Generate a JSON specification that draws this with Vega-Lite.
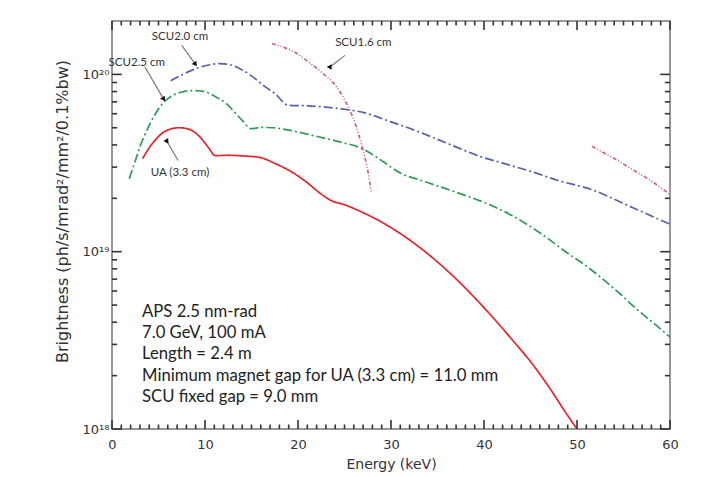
{
  "$schema": "https://vega.github.io/schema/vega-lite/v6.json",
  "width": 558,
  "height": 408,
  "autosize": "none",
  "padding": {"left": 112, "top": 21, "right": 36, "bottom": 48},
  "background": "white",
  "config": {"view": {"stroke": "#777", "strokeWidth": 1.5}, "font": "DejaVu Sans"},
  "datasets": {
    "curves": [
      {"s": "UA", "seg": 1, "e": 3.3, "b": 3.35e19},
      {"s": "UA", "seg": 1, "e": 4.0, "b": 3.85e19},
      {"s": "UA", "seg": 1, "e": 4.8, "b": 4.35e19},
      {"s": "UA", "seg": 1, "e": 5.5, "b": 4.7e19},
      {"s": "UA", "seg": 1, "e": 6.3, "b": 4.92e19},
      {"s": "UA", "seg": 1, "e": 7.2, "b": 5.0e19},
      {"s": "UA", "seg": 1, "e": 8.0, "b": 4.95e19},
      {"s": "UA", "seg": 1, "e": 8.8, "b": 4.75e19},
      {"s": "UA", "seg": 1, "e": 9.6, "b": 4.35e19},
      {"s": "UA", "seg": 1, "e": 10.4, "b": 3.85e19},
      {"s": "UA", "seg": 1, "e": 11.1, "b": 3.48e19},
      {"s": "UA", "seg": 1, "e": 12.5, "b": 3.5e19},
      {"s": "UA", "seg": 1, "e": 14.0, "b": 3.47e19},
      {"s": "UA", "seg": 1, "e": 15.9, "b": 3.4e19},
      {"s": "UA", "seg": 1, "e": 17.5, "b": 3.15e19},
      {"s": "UA", "seg": 1, "e": 19.5, "b": 2.78e19},
      {"s": "UA", "seg": 1, "e": 21.0, "b": 2.45e19},
      {"s": "UA", "seg": 1, "e": 22.3, "b": 2.15e19},
      {"s": "UA", "seg": 1, "e": 23.5, "b": 1.95e19},
      {"s": "UA", "seg": 1, "e": 25.0, "b": 1.84e19},
      {"s": "UA", "seg": 1, "e": 27.0, "b": 1.66e19},
      {"s": "UA", "seg": 1, "e": 29.0, "b": 1.467e19},
      {"s": "UA", "seg": 1, "e": 31.0, "b": 1.265e19},
      {"s": "UA", "seg": 1, "e": 33.0, "b": 1.065e19},
      {"s": "UA", "seg": 1, "e": 35.0, "b": 8.75e18},
      {"s": "UA", "seg": 1, "e": 37.0, "b": 7.02e18},
      {"s": "UA", "seg": 1, "e": 39.0, "b": 5.5e18},
      {"s": "UA", "seg": 1, "e": 41.0, "b": 4.23e18},
      {"s": "UA", "seg": 1, "e": 43.0, "b": 3.2e18},
      {"s": "UA", "seg": 1, "e": 45.0, "b": 2.4e18},
      {"s": "UA", "seg": 1, "e": 47.0, "b": 1.72e18},
      {"s": "UA", "seg": 1, "e": 49.0, "b": 1.19e18},
      {"s": "UA", "seg": 1, "e": 50.0, "b": 1.0e18},
      {"s": "SCU2.5", "seg": 1, "e": 1.86, "b": 2.58e19},
      {"s": "SCU2.5", "seg": 1, "e": 2.5, "b": 3.25e19},
      {"s": "SCU2.5", "seg": 1, "e": 3.0, "b": 3.9e19},
      {"s": "SCU2.5", "seg": 1, "e": 3.8, "b": 4.9e19},
      {"s": "SCU2.5", "seg": 1, "e": 4.6, "b": 5.9e19},
      {"s": "SCU2.5", "seg": 1, "e": 5.5, "b": 6.9e19},
      {"s": "SCU2.5", "seg": 1, "e": 6.5, "b": 7.6e19},
      {"s": "SCU2.5", "seg": 1, "e": 7.5, "b": 7.95e19},
      {"s": "SCU2.5", "seg": 1, "e": 8.5, "b": 8.1e19},
      {"s": "SCU2.5", "seg": 1, "e": 9.5, "b": 8.06e19},
      {"s": "SCU2.5", "seg": 1, "e": 10.5, "b": 7.8e19},
      {"s": "SCU2.5", "seg": 1, "e": 11.5, "b": 7.3e19},
      {"s": "SCU2.5", "seg": 1, "e": 12.3, "b": 6.84e19},
      {"s": "SCU2.5", "seg": 1, "e": 13.2, "b": 6.1e19},
      {"s": "SCU2.5", "seg": 1, "e": 14.0, "b": 5.5e19},
      {"s": "SCU2.5", "seg": 1, "e": 14.95, "b": 4.94e19},
      {"s": "SCU2.5", "seg": 1, "e": 16.0, "b": 5.02e19},
      {"s": "SCU2.5", "seg": 1, "e": 17.3, "b": 5.0e19},
      {"s": "SCU2.5", "seg": 1, "e": 19.0, "b": 4.85e19},
      {"s": "SCU2.5", "seg": 1, "e": 21.0, "b": 4.6e19},
      {"s": "SCU2.5", "seg": 1, "e": 23.0, "b": 4.35e19},
      {"s": "SCU2.5", "seg": 1, "e": 24.5, "b": 4.16e19},
      {"s": "SCU2.5", "seg": 1, "e": 26.7, "b": 3.85e19},
      {"s": "SCU2.5", "seg": 1, "e": 28.5, "b": 3.4e19},
      {"s": "SCU2.5", "seg": 1, "e": 30.0, "b": 3.0e19},
      {"s": "SCU2.5", "seg": 1, "e": 31.1, "b": 2.76e19},
      {"s": "SCU2.5", "seg": 1, "e": 33.0, "b": 2.55e19},
      {"s": "SCU2.5", "seg": 1, "e": 35.0, "b": 2.35e19},
      {"s": "SCU2.5", "seg": 1, "e": 37.5, "b": 2.12e19},
      {"s": "SCU2.5", "seg": 1, "e": 40.3, "b": 1.87e19},
      {"s": "SCU2.5", "seg": 1, "e": 43.0, "b": 1.6e19},
      {"s": "SCU2.5", "seg": 1, "e": 46.0, "b": 1.28e19},
      {"s": "SCU2.5", "seg": 1, "e": 49.0, "b": 9.8e18},
      {"s": "SCU2.5", "seg": 1, "e": 51.0, "b": 8.3e18},
      {"s": "SCU2.5", "seg": 1, "e": 52.5, "b": 7.2e18},
      {"s": "SCU2.5", "seg": 1, "e": 54.6, "b": 5.8e18},
      {"s": "SCU2.5", "seg": 1, "e": 56.5, "b": 4.7e18},
      {"s": "SCU2.5", "seg": 1, "e": 58.5, "b": 3.85e18},
      {"s": "SCU2.5", "seg": 1, "e": 60.0, "b": 3.3e18},
      {"s": "SCU2.0", "seg": 1, "e": 6.3, "b": 9.2e19},
      {"s": "SCU2.0", "seg": 1, "e": 7.3, "b": 9.8e19},
      {"s": "SCU2.0", "seg": 1, "e": 8.3, "b": 1.04e20},
      {"s": "SCU2.0", "seg": 1, "e": 9.3, "b": 1.09e20},
      {"s": "SCU2.0", "seg": 1, "e": 10.4, "b": 1.13e20},
      {"s": "SCU2.0", "seg": 1, "e": 11.6, "b": 1.15e20},
      {"s": "SCU2.0", "seg": 1, "e": 12.8, "b": 1.13e20},
      {"s": "SCU2.0", "seg": 1, "e": 14.0, "b": 1.06e20},
      {"s": "SCU2.0", "seg": 1, "e": 15.0, "b": 9.8e19},
      {"s": "SCU2.0", "seg": 1, "e": 15.6, "b": 9.25e19},
      {"s": "SCU2.0", "seg": 1, "e": 16.5, "b": 8.5e19},
      {"s": "SCU2.0", "seg": 1, "e": 17.5, "b": 7.8e19},
      {"s": "SCU2.0", "seg": 1, "e": 18.96, "b": 6.7e19},
      {"s": "SCU2.0", "seg": 1, "e": 21.0, "b": 6.65e19},
      {"s": "SCU2.0", "seg": 1, "e": 24.5, "b": 6.4e19},
      {"s": "SCU2.0", "seg": 1, "e": 27.0, "b": 6.1e19},
      {"s": "SCU2.0", "seg": 1, "e": 30.0, "b": 5.4e19},
      {"s": "SCU2.0", "seg": 1, "e": 32.5, "b": 4.85e19},
      {"s": "SCU2.0", "seg": 1, "e": 35.0, "b": 4.3e19},
      {"s": "SCU2.0", "seg": 1, "e": 37.5, "b": 3.8e19},
      {"s": "SCU2.0", "seg": 1, "e": 39.5, "b": 3.45e19},
      {"s": "SCU2.0", "seg": 1, "e": 42.0, "b": 3.16e19},
      {"s": "SCU2.0", "seg": 1, "e": 45.0, "b": 2.84e19},
      {"s": "SCU2.0", "seg": 1, "e": 48.0, "b": 2.52e19},
      {"s": "SCU2.0", "seg": 1, "e": 51.8, "b": 2.22e19},
      {"s": "SCU2.0", "seg": 1, "e": 55.0, "b": 1.87e19},
      {"s": "SCU2.0", "seg": 1, "e": 58.0, "b": 1.59e19},
      {"s": "SCU2.0", "seg": 1, "e": 60.0, "b": 1.43e19},
      {"s": "SCU1.6", "seg": 1, "e": 17.2, "b": 1.49e20},
      {"s": "SCU1.6", "seg": 1, "e": 18.5, "b": 1.42e20},
      {"s": "SCU1.6", "seg": 1, "e": 19.8, "b": 1.32e20},
      {"s": "SCU1.6", "seg": 1, "e": 20.9, "b": 1.2e20},
      {"s": "SCU1.6", "seg": 1, "e": 22.0, "b": 1.084e20},
      {"s": "SCU1.6", "seg": 1, "e": 23.0, "b": 9.8e19},
      {"s": "SCU1.6", "seg": 1, "e": 23.8, "b": 8.95e19},
      {"s": "SCU1.6", "seg": 1, "e": 24.6, "b": 7.85e19},
      {"s": "SCU1.6", "seg": 1, "e": 25.4, "b": 6.55e19},
      {"s": "SCU1.6", "seg": 1, "e": 26.2, "b": 5.19e19},
      {"s": "SCU1.6", "seg": 1, "e": 27.0, "b": 3.72e19},
      {"s": "SCU1.6", "seg": 1, "e": 27.5, "b": 2.88e19},
      {"s": "SCU1.6", "seg": 1, "e": 27.9, "b": 2.14e19},
      {"s": "SCU1.6", "seg": 2, "e": 51.6, "b": 3.93e19},
      {"s": "SCU1.6", "seg": 2, "e": 54.0, "b": 3.35e19},
      {"s": "SCU1.6", "seg": 2, "e": 56.1, "b": 2.88e19},
      {"s": "SCU1.6", "seg": 2, "e": 58.0, "b": 2.5e19},
      {"s": "SCU1.6", "seg": 2, "e": 60.0, "b": 2.1e19}
    ],
    "notes": [
      {"t": "SCU2.0 cm", "x": 7.31, "y": 1.62e20},
      {"t": "SCU2.5 cm", "x": 2.66, "y": 1.16e20},
      {"t": "UA (3.3 cm)", "x": 7.31, "y": 2.79e19},
      {"t": "SCU1.6 cm", "x": 27.02, "y": 1.5e20}
    ],
    "arrows": [
      {"k": "SCU2.0", "x": 7.49, "y": 1.46e20, "x2": 8.92, "y2": 1.15e20},
      {"k": "SCU2.5", "x": 3.55, "y": 1.1e20, "x2": 5.52, "y2": 7.3e19},
      {"k": "UA", "x": 7.1, "y": 3.27e19, "x2": 5.88, "y2": 4.21e19},
      {"k": "SCU1.6", "x": 25.05, "y": 1.28e20, "x2": 23.44, "y2": 1.1e20}
    ],
    "info": [
      {"t": "APS 2.5 nm-rad", "x": 3.23, "y": 4.56e18},
      {"t": "7.0 GeV, 100 mA", "x": 3.23, "y": 3.48e18},
      {"t": "Length = 2.4 m", "x": 3.23, "y": 2.65e18},
      {"t": "Minimum magnet gap for UA (3.3 cm) = 11.0 mm", "x": 3.23, "y": 1.99e18},
      {"t": "SCU fixed gap = 9.0 mm", "x": 3.23, "y": 1.51e18}
    ],
    "ticks": [
      {"a": 0, "a2": 0, "b": 1e18, "b2": 1.124e18}, {"a": 1, "a2": 1, "b": 1e18, "b2": 1.06e18}, {"a": 2, "a2": 2, "b": 1e18, "b2": 1.06e18}, {"a": 3, "a2": 3, "b": 1e18, "b2": 1.06e18}, {"a": 4, "a2": 4, "b": 1e18, "b2": 1.06e18}, {"a": 5, "a2": 5, "b": 1e18, "b2": 1.06e18}, {"a": 6, "a2": 6, "b": 1e18, "b2": 1.06e18}, {"a": 7, "a2": 7, "b": 1e18, "b2": 1.06e18}, {"a": 8, "a2": 8, "b": 1e18, "b2": 1.06e18}, {"a": 9, "a2": 9, "b": 1e18, "b2": 1.06e18},
      {"a": 10, "a2": 10, "b": 1e18, "b2": 1.124e18}, {"a": 11, "a2": 11, "b": 1e18, "b2": 1.06e18}, {"a": 12, "a2": 12, "b": 1e18, "b2": 1.06e18}, {"a": 13, "a2": 13, "b": 1e18, "b2": 1.06e18}, {"a": 14, "a2": 14, "b": 1e18, "b2": 1.06e18}, {"a": 15, "a2": 15, "b": 1e18, "b2": 1.06e18}, {"a": 16, "a2": 16, "b": 1e18, "b2": 1.06e18}, {"a": 17, "a2": 17, "b": 1e18, "b2": 1.06e18}, {"a": 18, "a2": 18, "b": 1e18, "b2": 1.06e18}, {"a": 19, "a2": 19, "b": 1e18, "b2": 1.06e18},
      {"a": 20, "a2": 20, "b": 1e18, "b2": 1.124e18}, {"a": 21, "a2": 21, "b": 1e18, "b2": 1.06e18}, {"a": 22, "a2": 22, "b": 1e18, "b2": 1.06e18}, {"a": 23, "a2": 23, "b": 1e18, "b2": 1.06e18}, {"a": 24, "a2": 24, "b": 1e18, "b2": 1.06e18}, {"a": 25, "a2": 25, "b": 1e18, "b2": 1.06e18}, {"a": 26, "a2": 26, "b": 1e18, "b2": 1.06e18}, {"a": 27, "a2": 27, "b": 1e18, "b2": 1.06e18}, {"a": 28, "a2": 28, "b": 1e18, "b2": 1.06e18}, {"a": 29, "a2": 29, "b": 1e18, "b2": 1.06e18},
      {"a": 30, "a2": 30, "b": 1e18, "b2": 1.124e18}, {"a": 31, "a2": 31, "b": 1e18, "b2": 1.06e18}, {"a": 32, "a2": 32, "b": 1e18, "b2": 1.06e18}, {"a": 33, "a2": 33, "b": 1e18, "b2": 1.06e18}, {"a": 34, "a2": 34, "b": 1e18, "b2": 1.06e18}, {"a": 35, "a2": 35, "b": 1e18, "b2": 1.06e18}, {"a": 36, "a2": 36, "b": 1e18, "b2": 1.06e18}, {"a": 37, "a2": 37, "b": 1e18, "b2": 1.06e18}, {"a": 38, "a2": 38, "b": 1e18, "b2": 1.06e18}, {"a": 39, "a2": 39, "b": 1e18, "b2": 1.06e18},
      {"a": 40, "a2": 40, "b": 1e18, "b2": 1.124e18}, {"a": 41, "a2": 41, "b": 1e18, "b2": 1.06e18}, {"a": 42, "a2": 42, "b": 1e18, "b2": 1.06e18}, {"a": 43, "a2": 43, "b": 1e18, "b2": 1.06e18}, {"a": 44, "a2": 44, "b": 1e18, "b2": 1.06e18}, {"a": 45, "a2": 45, "b": 1e18, "b2": 1.06e18}, {"a": 46, "a2": 46, "b": 1e18, "b2": 1.06e18}, {"a": 47, "a2": 47, "b": 1e18, "b2": 1.06e18}, {"a": 48, "a2": 48, "b": 1e18, "b2": 1.06e18}, {"a": 49, "a2": 49, "b": 1e18, "b2": 1.06e18},
      {"a": 50, "a2": 50, "b": 1e18, "b2": 1.124e18}, {"a": 51, "a2": 51, "b": 1e18, "b2": 1.06e18}, {"a": 52, "a2": 52, "b": 1e18, "b2": 1.06e18}, {"a": 53, "a2": 53, "b": 1e18, "b2": 1.06e18}, {"a": 54, "a2": 54, "b": 1e18, "b2": 1.06e18}, {"a": 55, "a2": 55, "b": 1e18, "b2": 1.06e18}, {"a": 56, "a2": 56, "b": 1e18, "b2": 1.06e18}, {"a": 57, "a2": 57, "b": 1e18, "b2": 1.06e18}, {"a": 58, "a2": 58, "b": 1e18, "b2": 1.06e18}, {"a": 59, "a2": 59, "b": 1e18, "b2": 1.06e18},
      {"a": 60, "a2": 60, "b": 1e18, "b2": 1.124e18},
      {"a": 0, "a2": 0, "b": 2e20, "b2": 1.78e20}, {"a": 1, "a2": 1, "b": 2e20, "b2": 1.887e20}, {"a": 2, "a2": 2, "b": 2e20, "b2": 1.887e20}, {"a": 3, "a2": 3, "b": 2e20, "b2": 1.887e20}, {"a": 4, "a2": 4, "b": 2e20, "b2": 1.887e20}, {"a": 5, "a2": 5, "b": 2e20, "b2": 1.887e20}, {"a": 6, "a2": 6, "b": 2e20, "b2": 1.887e20}, {"a": 7, "a2": 7, "b": 2e20, "b2": 1.887e20}, {"a": 8, "a2": 8, "b": 2e20, "b2": 1.887e20}, {"a": 9, "a2": 9, "b": 2e20, "b2": 1.887e20},
      {"a": 10, "a2": 10, "b": 2e20, "b2": 1.78e20}, {"a": 11, "a2": 11, "b": 2e20, "b2": 1.887e20}, {"a": 12, "a2": 12, "b": 2e20, "b2": 1.887e20}, {"a": 13, "a2": 13, "b": 2e20, "b2": 1.887e20}, {"a": 14, "a2": 14, "b": 2e20, "b2": 1.887e20}, {"a": 15, "a2": 15, "b": 2e20, "b2": 1.887e20}, {"a": 16, "a2": 16, "b": 2e20, "b2": 1.887e20}, {"a": 17, "a2": 17, "b": 2e20, "b2": 1.887e20}, {"a": 18, "a2": 18, "b": 2e20, "b2": 1.887e20}, {"a": 19, "a2": 19, "b": 2e20, "b2": 1.887e20},
      {"a": 20, "a2": 20, "b": 2e20, "b2": 1.78e20}, {"a": 21, "a2": 21, "b": 2e20, "b2": 1.887e20}, {"a": 22, "a2": 22, "b": 2e20, "b2": 1.887e20}, {"a": 23, "a2": 23, "b": 2e20, "b2": 1.887e20}, {"a": 24, "a2": 24, "b": 2e20, "b2": 1.887e20}, {"a": 25, "a2": 25, "b": 2e20, "b2": 1.887e20}, {"a": 26, "a2": 26, "b": 2e20, "b2": 1.887e20}, {"a": 27, "a2": 27, "b": 2e20, "b2": 1.887e20}, {"a": 28, "a2": 28, "b": 2e20, "b2": 1.887e20}, {"a": 29, "a2": 29, "b": 2e20, "b2": 1.887e20},
      {"a": 30, "a2": 30, "b": 2e20, "b2": 1.78e20}, {"a": 31, "a2": 31, "b": 2e20, "b2": 1.887e20}, {"a": 32, "a2": 32, "b": 2e20, "b2": 1.887e20}, {"a": 33, "a2": 33, "b": 2e20, "b2": 1.887e20}, {"a": 34, "a2": 34, "b": 2e20, "b2": 1.887e20}, {"a": 35, "a2": 35, "b": 2e20, "b2": 1.887e20}, {"a": 36, "a2": 36, "b": 2e20, "b2": 1.887e20}, {"a": 37, "a2": 37, "b": 2e20, "b2": 1.887e20}, {"a": 38, "a2": 38, "b": 2e20, "b2": 1.887e20}, {"a": 39, "a2": 39, "b": 2e20, "b2": 1.887e20},
      {"a": 40, "a2": 40, "b": 2e20, "b2": 1.78e20}, {"a": 41, "a2": 41, "b": 2e20, "b2": 1.887e20}, {"a": 42, "a2": 42, "b": 2e20, "b2": 1.887e20}, {"a": 43, "a2": 43, "b": 2e20, "b2": 1.887e20}, {"a": 44, "a2": 44, "b": 2e20, "b2": 1.887e20}, {"a": 45, "a2": 45, "b": 2e20, "b2": 1.887e20}, {"a": 46, "a2": 46, "b": 2e20, "b2": 1.887e20}, {"a": 47, "a2": 47, "b": 2e20, "b2": 1.887e20}, {"a": 48, "a2": 48, "b": 2e20, "b2": 1.887e20}, {"a": 49, "a2": 49, "b": 2e20, "b2": 1.887e20},
      {"a": 50, "a2": 50, "b": 2e20, "b2": 1.78e20}, {"a": 51, "a2": 51, "b": 2e20, "b2": 1.887e20}, {"a": 52, "a2": 52, "b": 2e20, "b2": 1.887e20}, {"a": 53, "a2": 53, "b": 2e20, "b2": 1.887e20}, {"a": 54, "a2": 54, "b": 2e20, "b2": 1.887e20}, {"a": 55, "a2": 55, "b": 2e20, "b2": 1.887e20}, {"a": 56, "a2": 56, "b": 2e20, "b2": 1.887e20}, {"a": 57, "a2": 57, "b": 2e20, "b2": 1.887e20}, {"a": 58, "a2": 58, "b": 2e20, "b2": 1.887e20}, {"a": 59, "a2": 59, "b": 2e20, "b2": 1.887e20},
      {"a": 60, "a2": 60, "b": 2e20, "b2": 1.78e20},
      {"a": 0, "a2": 1.05, "b": 1e18, "b2": 1e18}, {"a": 0, "a2": 0.55, "b": 2e18, "b2": 2e18}, {"a": 0, "a2": 0.55, "b": 3e18, "b2": 3e18}, {"a": 0, "a2": 0.55, "b": 4e18, "b2": 4e18}, {"a": 0, "a2": 0.55, "b": 5e18, "b2": 5e18}, {"a": 0, "a2": 0.55, "b": 6e18, "b2": 6e18}, {"a": 0, "a2": 0.55, "b": 7e18, "b2": 7e18}, {"a": 0, "a2": 0.55, "b": 8e18, "b2": 8e18}, {"a": 0, "a2": 0.55, "b": 9e18, "b2": 9e18},
      {"a": 0, "a2": 1.05, "b": 1e19, "b2": 1e19}, {"a": 0, "a2": 0.55, "b": 2e19, "b2": 2e19}, {"a": 0, "a2": 0.55, "b": 3e19, "b2": 3e19}, {"a": 0, "a2": 0.55, "b": 4e19, "b2": 4e19}, {"a": 0, "a2": 0.55, "b": 5e19, "b2": 5e19}, {"a": 0, "a2": 0.55, "b": 6e19, "b2": 6e19}, {"a": 0, "a2": 0.55, "b": 7e19, "b2": 7e19}, {"a": 0, "a2": 0.55, "b": 8e19, "b2": 8e19}, {"a": 0, "a2": 0.55, "b": 9e19, "b2": 9e19},
      {"a": 0, "a2": 1.05, "b": 1e20, "b2": 1e20},
      {"a": 60, "a2": 58.95, "b": 1e18, "b2": 1e18}, {"a": 60, "a2": 59.45, "b": 2e18, "b2": 2e18}, {"a": 60, "a2": 59.45, "b": 3e18, "b2": 3e18}, {"a": 60, "a2": 59.45, "b": 4e18, "b2": 4e18}, {"a": 60, "a2": 59.45, "b": 5e18, "b2": 5e18}, {"a": 60, "a2": 59.45, "b": 6e18, "b2": 6e18}, {"a": 60, "a2": 59.45, "b": 7e18, "b2": 7e18}, {"a": 60, "a2": 59.45, "b": 8e18, "b2": 8e18}, {"a": 60, "a2": 59.45, "b": 9e18, "b2": 9e18},
      {"a": 60, "a2": 58.95, "b": 1e19, "b2": 1e19}, {"a": 60, "a2": 59.45, "b": 2e19, "b2": 2e19}, {"a": 60, "a2": 59.45, "b": 3e19, "b2": 3e19}, {"a": 60, "a2": 59.45, "b": 4e19, "b2": 4e19}, {"a": 60, "a2": 59.45, "b": 5e19, "b2": 5e19}, {"a": 60, "a2": 59.45, "b": 6e19, "b2": 6e19}, {"a": 60, "a2": 59.45, "b": 7e19, "b2": 7e19}, {"a": 60, "a2": 59.45, "b": 8e19, "b2": 8e19}, {"a": 60, "a2": 59.45, "b": 9e19, "b2": 9e19},
      {"a": 60, "a2": 58.95, "b": 1e20, "b2": 1e20}
    ]
  },
  "layer": [
    {
      "data": {"name": "curves"},
      "mark": {"type": "line", "strokeWidth": 1.7, "clip": true, "interpolate": "monotone"},
      "encoding": {
        "x": {
          "field": "e", "type": "quantitative",
          "scale": {"domain": [0, 60], "nice": false, "zero": false},
          "axis": {
            "orient": "bottom",
            "values": [0, 10, 20, 30, 40, 50, 60],
            "domain": false, "grid": false, "ticks": false,
            "labelFont": "DejaVu Sans", "labelFontSize": 13, "labelColor": "#333",
            "labelPadding": 9, "labelOverlap": false, "labelFlush": false,
            "title": "Energy  (keV)", "titleFont": "DejaVu Sans", "titleFontSize": 14,
            "titleFontWeight": "normal", "titleColor": "#333", "titleY": 35, "titleBaseline": "middle"
          }
        },
        "y": {
          "field": "b", "type": "quantitative",
          "scale": {"type": "log", "domain": [1e18, 2e20], "nice": false},
          "axis": {
            "orient": "left",
            "values": [1e18, 1e19, 1e20],
            "domain": false, "grid": false, "ticks": false,
            "labelExpr": "abs(datum.value-1e18)<1e15 ? '10¹⁸' : abs(datum.value-1e19)<1e16 ? '10¹⁹' : '10²⁰'",
            "labelFont": "DejaVu Sans", "labelFontSize": 13, "labelColor": "#333",
            "labelPadding": 3, "labelOverlap": false, "labelFlush": false,
            "title": "Brightness  (ph/s/mrad²/mm²/0.1%bw)", "titleFont": "DejaVu Sans", "titleFontSize": 16,
            "titleFontWeight": "normal", "titleColor": "#333", "titleX": -50, "titleY": 190,
            "titleAngle": -90, "titleBaseline": "middle", "titleAlign": "center"
          }
        },
        "color": {
          "field": "s", "type": "nominal", "legend": null,
          "scale": {"domain": ["UA", "SCU2.5", "SCU2.0", "SCU1.6"], "range": ["#e3262d", "#2e9a55", "#5560b0", "#c8609f"]}
        },
        "strokeDash": {
          "field": "s", "type": "nominal", "legend": null,
          "scale": {"domain": ["UA", "SCU2.5", "SCU2.0", "SCU1.6"], "range": [[1, 0], [9, 3, 2, 3], [9, 3, 2, 3], [4, 2, 1, 2, 1, 2]]}
        },
        "detail": {"field": "seg", "type": "nominal"},
        "order": {"field": "e", "type": "quantitative"}
      }
    },
    {
      "data": {"name": "ticks"},
      "mark": {"type": "rule", "color": "#333", "strokeWidth": 1.6, "opacity": 1},
      "encoding": {
        "x": {"field": "a", "type": "quantitative", "axis": null},
        "y": {"field": "b", "type": "quantitative", "scale": {"type": "log"}, "axis": null},
        "x2": {"field": "a2"},
        "y2": {"field": "b2"}
      }
    },
    {
      "data": {"name": "arrows"},
      "mark": {"type": "rule", "color": "#777", "strokeWidth": 1.2},
      "encoding": {
        "x": {"field": "x", "type": "quantitative", "axis": null},
        "y": {"field": "y", "type": "quantitative", "scale": {"type": "log"}, "axis": null},
        "x2": {"field": "x2"},
        "y2": {"field": "y2"}
      }
    },
    {
      "data": {"name": "arrows"},
      "mark": {"type": "point", "shape": "triangle", "filled": true, "color": "#111", "size": 32, "opacity": 1},
      "encoding": {
        "x": {"field": "x2", "type": "quantitative", "axis": null},
        "y": {"field": "y2", "type": "quantitative", "scale": {"type": "log"}, "axis": null},
        "angle": {
          "field": "k", "type": "nominal", "legend": null,
          "scale": {"domain": ["SCU2.0", "SCU2.5", "UA", "SCU1.6"], "range": [144, 150, 330, 232]}
        }
      }
    },
    {
      "data": {"name": "notes"},
      "mark": {"type": "text", "font": "Lato", "fontSize": 11.5, "color": "#333", "align": "center", "baseline": "middle"},
      "encoding": {
        "x": {"field": "x", "type": "quantitative", "axis": null},
        "y": {"field": "y", "type": "quantitative", "scale": {"type": "log"}, "axis": null},
        "text": {"field": "t"}
      }
    },
    {
      "data": {"name": "info"},
      "mark": {"type": "text", "font": "Lato", "fontSize": 16.7, "color": "#222", "align": "left", "baseline": "middle"},
      "encoding": {
        "x": {"field": "x", "type": "quantitative", "axis": null},
        "y": {"field": "y", "type": "quantitative", "scale": {"type": "log"}, "axis": null},
        "text": {"field": "t"}
      }
    }
  ],
  "resolve": {"axis": {"x": "independent", "y": "independent"}}
}
